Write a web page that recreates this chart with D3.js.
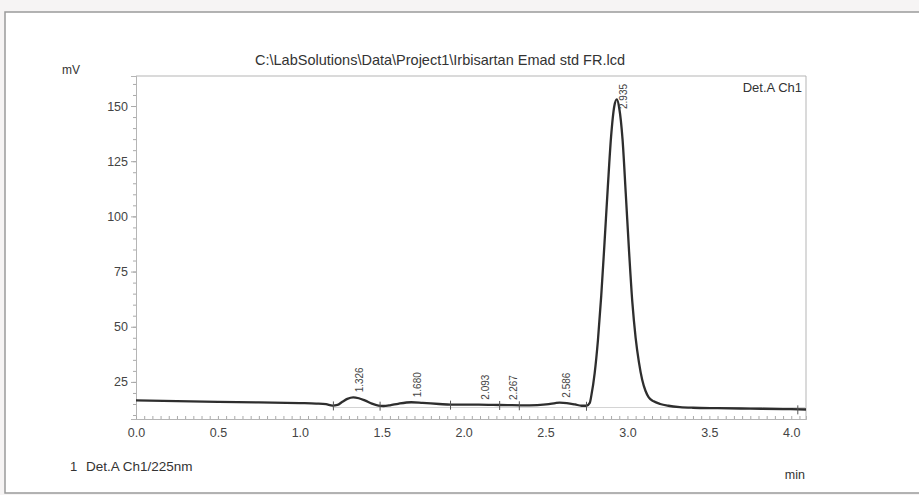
<!DOCTYPE html>
<html>
<head>
<meta charset="utf-8">
<script src="https://cdn.jsdelivr.net/npm/d3@7"></script>
<style>
  body { margin: 0; background: #f6f4f4; }
  svg { display: block; }
  text { font-family: "Liberation Sans", Arial, sans-serif; fill: #333; }
</style>
</head>
<body>
<div class="chart"></div>
<script>

//// data

const timeMin = [0.00, 0.25, 0.50, 0.75, 1.00, 1.10, 1.16, 1.20, 1.23, 1.26, 1.29, 1.326, 1.36, 1.40, 1.44, 1.48, 1.51, 1.55, 1.60, 1.68, 1.75, 1.85, 1.92, 2.00, 2.093, 2.18, 2.267, 2.35, 2.45, 2.52, 2.56, 2.586, 2.63, 2.68, 2.72, 2.75, 2.77, 2.78, 2.80, 2.82, 2.84, 2.86, 2.88, 2.90, 2.92, 2.935, 2.95, 2.97, 2.99, 3.01, 3.03, 3.05, 3.07, 3.09, 3.11, 3.13, 3.16, 3.20, 3.25, 3.32, 3.40, 3.55, 3.75, 3.95, 4.09];
const signalMV = [16.6, 16.3, 16.0, 15.7, 15.4, 15.2, 14.9, 14.3, 14.6, 16.0, 17.3, 18.0, 17.6, 16.5, 15.2, 14.3, 14.1, 14.4, 15.1, 15.8, 15.5, 15.0, 14.7, 14.7, 14.7, 14.6, 14.5, 14.4, 14.5, 14.9, 15.4, 15.6, 15.4, 14.8, 14.2, 14.2, 15.5, 19, 29, 44, 64, 88, 113, 136, 150, 153, 149, 135, 110, 84, 61, 45, 34, 26, 21, 18, 16.2, 15.0, 14.2, 13.6, 13.3, 13.1, 12.9, 12.7, 12.5];

const peakTimes = [1.326, 1.680, 2.093, 2.267, 2.586, 2.935];
const peakLabels = ['1.326', '1.680', '2.093', '2.267', '2.586', '2.935'];

// integration start/stop marks
const markerTimes = [1.205, 1.49, 1.92, 2.22, 2.34, 2.75, 4.04];

const xTicks = [0.0, 0.5, 1.0, 1.5, 2.0, 2.5, 3.0, 3.5, 4.0];
const yTicks = [25, 50, 75, 100, 125, 150];

const titleText = 'C:\\LabSolutions\\Data\\Project1\\Irbisartan Emad std FR.lcd';


//// drawing

const W = 919, H = 495;
const plotL = 136, plotR = 806, plotT = 76, plotB = 419;

const svg = d3.select('.chart').append('svg')
    .attr('width', W)
    .attr('height', H);

// page frame (the scanned report sheet)
svg.append('rect')
    .attr('x', 5).attr('y', 12)
    .attr('width', W + 10).attr('height', 481)
    .style('fill', '#fff')
    .style('stroke', '#9a9a9a')
    .style('stroke-width', 1.5);

const x = d3.scaleLinear().domain([0, 4.09]).range([plotL, plotR]);
const y = d3.scaleLinear().domain([8.2, 163.6]).range([plotB, plotT]);

// plot box top/right
svg.append('path')
    .attr('d', `M${plotL},${plotT}H${plotR}V${plotB}`)
    .style('fill', 'none')
    .style('stroke', '#b5b5b5')
    .style('stroke-width', 1);

// y axis
const yAxis = svg.append('g')
    .attr('transform', `translate(${plotL},0)`)
    .call(d3.axisLeft(y).tickValues(d3.range(10, 164, 5)).tickSize(3).tickFormat(''));
yAxis.append('g')
    .call(d3.axisLeft(y).tickValues(yTicks).tickSize(5).tickPadding(3));
yAxis.selectAll('.domain').style('stroke', '#b5b5b5');
yAxis.selectAll('line').style('stroke', '#aaa');
yAxis.selectAll('text')
    .style('font-size', '12.5px')
    .style('fill', '#444');

// x axis (ticks point up into the plot)
const xAxis = svg.append('g')
    .attr('transform', `translate(0,${plotB})`)
    .call(d3.axisTop(x).tickValues(d3.range(0, 4.09, 0.05)).tickSize(3).tickFormat(''));
xAxis.append('g')
    .call(d3.axisBottom(x).tickValues(xTicks).tickSize(0).tickPadding(9).tickFormat(d3.format('.1f')));
xAxis.selectAll('.domain').style('stroke', '#b5b5b5');
xAxis.selectAll('line').style('stroke', '#aaa');
xAxis.selectAll('text')
    .style('font-size', '12.5px')
    .style('fill', '#444');

// faint drift baseline under the peaks
svg.append('line')
    .attr('x1', x(1.2)).attr('x2', x(4.09))
    .attr('y1', y(13.4)).attr('y2', y(13.4))
    .style('stroke', '#d4d4d4')
    .style('stroke-width', 1);

// trace
const traceData = timeMin.map((t, i) => ({t: t, v: signalMV[i]}));
const line = d3.line()
    .x(d => x(d.t))
    .y(d => y(d.v))
    .curve(d3.curveMonotoneX);

svg.append('path')
    .datum(traceData)
    .attr('d', line)
    .style('fill', 'none')
    .style('stroke', '#2e2e2e')
    .style('stroke-width', 2.3);

// value of the trace at any time (linear between read points)
const bis = d3.bisector(d => d.t).left;
function valueAt(t){
    const i = Math.max(1, Math.min(traceData.length - 1, bis(traceData, t)));
    const a = traceData[i - 1], b = traceData[i];
    return a.v + (b.v - a.v) * (t - a.t) / (b.t - a.t);
}

// integration marks
svg.selectAll('.mark')
    .data(markerTimes)
    .enter().append('line')
    .attr('class', 'mark')
    .attr('x1', d => x(d)).attr('x2', d => x(d))
    .attr('y1', d => y(valueAt(d)) - 4)
    .attr('y2', d => y(valueAt(d)) + 5)
    .style('stroke', '#555')
    .style('stroke-width', 1);

// peak retention time labels, rotated
svg.selectAll('.plabel')
    .data(peakTimes)
    .enter().append('text')
    .attr('class', 'plabel')
    .attr('transform', (d, i) => {
        const px = x(d) + 10;
        const py = Math.max(y(valueAt(d)) - 5, plotT + 33);
        return `translate(${px},${py}) rotate(-90)`;
    })
    .text((d, i) => peakLabels[i])
    .style('font-size', '10px')
    .style('fill', '#444');

// texts
svg.append('text')
    .attr('x', 440).attr('y', 65)
    .attr('text-anchor', 'middle')
    .style('font-size', '14.5px')
    .text(titleText);

svg.append('text')
    .attr('x', 62).attr('y', 74)
    .style('font-size', '12px')
    .text('mV');

svg.append('text')
    .attr('x', plotR - 4).attr('y', 92)
    .attr('text-anchor', 'end')
    .style('font-size', '13px')
    .text('Det.A Ch1');

svg.append('text')
    .attr('x', plotR - 1).attr('y', 479)
    .attr('text-anchor', 'end')
    .style('font-size', '12.5px')
    .text('min');

svg.append('text')
    .attr('x', 70).attr('y', 471)
    .style('font-size', '13px')
    .text('1');

svg.append('text')
    .attr('x', 86).attr('y', 471)
    .style('font-size', '13.5px')
    .text('Det.A Ch1/225nm');

</script>
</body>
</html>
